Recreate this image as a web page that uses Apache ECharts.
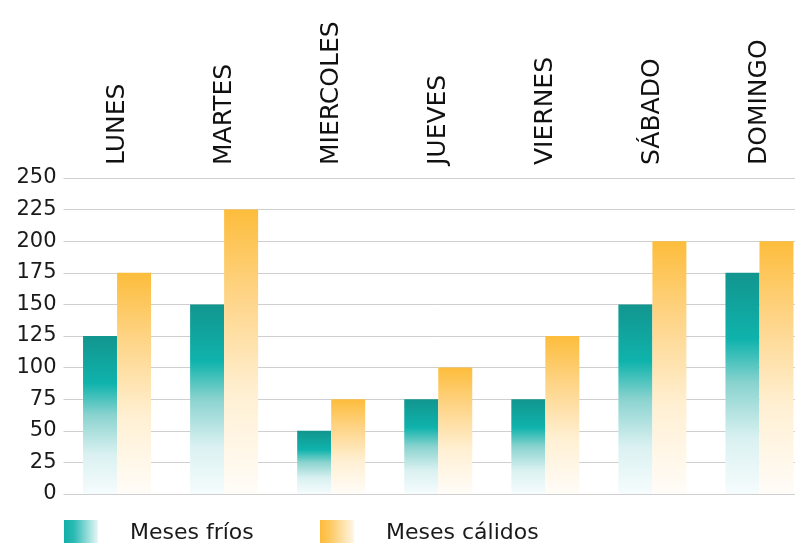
<!DOCTYPE html>
<html>
<head>
<meta charset="utf-8">
<script src="https://cdn.jsdelivr.net/npm/echarts@6/dist/echarts.min.js"></script>
<style>
  html, body { margin: 0; padding: 0; background: #fff; overflow: hidden; }
  /* el grafico original se corta por la derecha */
  #chart { width: 813px; height: 543px; }
</style>
</head>
<body>
<div id="chart"></div>
<script>
// datos
var dias = ["LUNES", "MARTES", "MIERCOLES", "JUEVES", "VIERNES", "SÁBADO", "DOMINGO"];
var mesesFrios = [125, 150, 50, 75, 75, 150, 175];
var mesesCalidos = [175, 225, 75, 100, 125, 200, 200];
var nombres = ["Meses fríos", "Meses cálidos"];

var fuente = "DejaVu Sans";

function degradado(stops, horizontal) {
    return new echarts.graphic.LinearGradient(0, 0, horizontal ? 1 : 0, horizontal ? 0 : 1, stops);
}

var tealBar = [
    { offset: 0, color: "#12958f" },
    { offset: 0.3, color: "#0fb3ac" },
    { offset: 0.5, color: "#8ad3cf" },
    { offset: 0.75, color: "#daf1f1" },
    { offset: 1, color: "#f6fcfd" }
];
var naranjaBar = [
    { offset: 0, color: "#fdbd3c" },
    { offset: 0.3, color: "#fed486" },
    { offset: 0.65, color: "#fff0d3" },
    { offset: 1, color: "#fffcf8" }
];
var tealLeyenda = [
    { offset: 0, color: "#0fb0a9" },
    { offset: 0.3, color: "#2dbab4" },
    { offset: 1, color: "#e8f7f7" }
];
var naranjaLeyenda = [
    { offset: 0, color: "#fdbb3a" },
    { offset: 0.3, color: "#fdc962" },
    { offset: 1, color: "#fff6e6" }
];

var leyenda = function (idx, left, stops) {
    return {
        left: left,
        top: 520,
        padding: 0,
        itemWidth: 34,
        itemHeight: 27,
        icon: "rect",
        data: [{ name: nombres[idx], itemStyle: { color: degradado(stops, true) } }],
        textStyle: { fontFamily: fuente, fontSize: 22, color: "#1a1a1a", padding: [3, 0, 0, 27] }
    };
};

var myChart = echarts.init(document.getElementById("chart"));
myChart.setOption({
    backgroundColor: "#fff",
    animation: false,
    legend: [leyenda(0, 64, tealLeyenda), leyenda(1, 320, naranjaLeyenda)],
    grid: { left: 63.5, top: 178, right: 0, height: 316, containLabel: false },
    xAxis: {
        type: "category",
        position: "top",
        data: dias,
        axisLine: { show: false },
        axisTick: { show: false },
        axisLabel: { rotate: 90, margin: 13, fontFamily: fuente, fontSize: 25, color: "#111", interval: 0 }
    },
    yAxis: {
        type: "value",
        min: 0,
        max: 250,
        interval: 25,
        axisLine: { show: false },
        axisTick: { show: false },
        axisLabel: { margin: 7, fontFamily: fuente, fontSize: 21, color: "#1a1a1a" },
        splitLine: { lineStyle: { color: "#cfcfcf", width: 1 } }
    },
    series: [
        {
            name: nombres[0],
            type: "bar",
            data: mesesFrios,
            barWidth: 34,
            barGap: "0%",
            itemStyle: { color: degradado(tealBar) }
        },
        {
            name: nombres[1],
            type: "bar",
            data: mesesCalidos,
            barWidth: 34,
            barGap: "0%",
            itemStyle: { color: degradado(naranjaBar) }
        }
    ]
});
</script>
</body>
</html>
